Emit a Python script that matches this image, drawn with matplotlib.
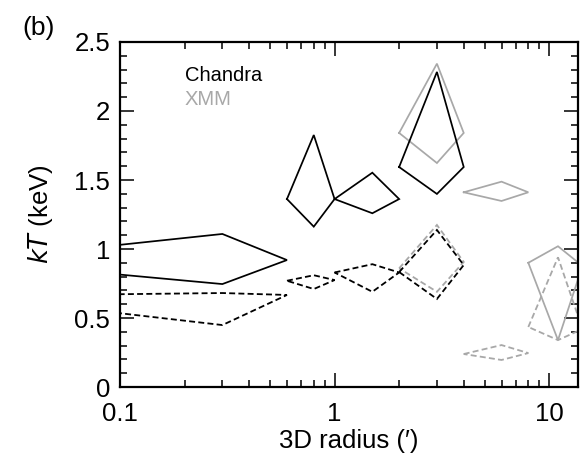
import matplotlib

matplotlib.use('Agg')
import matplotlib.pyplot as plt
from matplotlib.ticker import MultipleLocator, NullFormatter, LogLocator

plt.rcParams['font.family'] = ['Liberation Sans', 'DejaVu Sans']

# --- DATA: one diamond per shell (r_in, r_mid, r_out) x (T_left, T_hi, T_right, T_lo) ---
# Chandra, solid (hot component)
ch_r_in = [0.02, 0.6, 1.0, 2.0]
ch_r_mid = [0.3, 0.8, 1.5, 3.0]
ch_r_out = [0.6, 1.0, 2.0, 4.0]
ch_t_left = [0.915, 1.362, 1.362, 1.594]
ch_t_hi = [1.109, 1.826, 1.553, 2.283]
ch_t_right = [0.92, 1.362, 1.362, 1.594]
ch_t_lo = [0.746, 1.162, 1.259, 1.399]

# XMM, solid
xmm_r_in = [2.0, 4.0, 8.0]
xmm_r_mid = [3.0, 6.0, 11.0]
xmm_r_out = [4.0, 8.0, 14.3]
xmm_t_left = [1.841, 1.411, 0.90]
xmm_t_hi = [2.343, 1.488, 1.02]
xmm_t_right = [1.841, 1.411, 0.877]
xmm_t_lo = [1.623, 1.348, 0.34]

# Chandra, dashed (cool component)
chc_t_left = [0.66, 0.77, 0.83, 0.833]
chc_t_hi = [0.681, 0.81, 0.89, 1.138]
chc_t_right = [0.667, 0.775, 0.83, 0.884]
chc_t_lo = [0.449, 0.71, 0.69, 0.638]

# XMM, dashed
xmmc_t_left = [0.86, 0.239, 0.435]
xmmc_t_hi = [1.174, 0.304, 0.94]
xmmc_t_right = [0.906, 0.246, 0.42]
xmmc_t_lo = [0.69, 0.196, 0.34]

BLACK = 'black'
GREY = '#a8a8a8'
DASH = (0, (3.3, 1.8))


def draw_diamonds(ax, r_in, r_mid, r_out, t_left, t_hi, t_right, t_lo, **kw):
    for i in range(len(r_in)):
        xs = [r_in[i], r_mid[i], r_out[i], r_mid[i], r_in[i]]
        ys = [t_left[i], t_hi[i], t_right[i], t_lo[i], t_left[i]]
        ax.plot(xs, ys, solid_joinstyle='miter', dash_joinstyle='miter', **kw)


fig = plt.figure(figsize=(5.86, 4.65), dpi=100)
ax = fig.add_axes([0.2048, 0.1677, 0.7823, 0.7420])

draw_diamonds(ax, xmm_r_in, xmm_r_mid, xmm_r_out,
              xmmc_t_left, xmmc_t_hi, xmmc_t_right, xmmc_t_lo,
              color=GREY, lw=1.3, ls=DASH)
draw_diamonds(ax, ch_r_in, ch_r_mid, ch_r_out,
              chc_t_left, chc_t_hi, chc_t_right, chc_t_lo,
              color=BLACK, lw=1.3, ls=DASH)
draw_diamonds(ax, xmm_r_in, xmm_r_mid, xmm_r_out,
              xmm_t_left, xmm_t_hi, xmm_t_right, xmm_t_lo,
              color=GREY, lw=1.25)
draw_diamonds(ax, ch_r_in, ch_r_mid, ch_r_out,
              ch_t_left, ch_t_hi, ch_t_right, ch_t_lo,
              color=BLACK, lw=1.25)

ax.set_xscale('log')
ax.set_xlim(0.1, 13.7)
ax.set_ylim(0, 2.5)

ax.set_xticks([0.1, 1, 10])
ax.set_xticklabels(['0.1', '1', '10'])
ax.xaxis.set_minor_locator(LogLocator(base=10, subs=range(2, 10)))
ax.xaxis.set_minor_formatter(NullFormatter())
ax.set_yticks([0, 0.5, 1, 1.5, 2, 2.5])
ax.set_yticklabels(['0', '0.5', '1', '1.5', '2', '2.5'])
ax.yaxis.set_minor_locator(MultipleLocator(0.1))

ax.tick_params(which='both', direction='in', top=True, right=True,
               width=1.1, labelsize=18.5)
ax.tick_params(which='major', length=10)
ax.tick_params(which='minor', length=5)
ax.tick_params(axis='x', pad=11)
ax.tick_params(axis='y', pad=7)
for sp in ax.spines.values():
    sp.set_linewidth(1.6)

ax.set_xlabel('3D radius (\u2032)', fontsize=18.5, labelpad=2)
ax.set_ylabel('$\\mathit{kT}$ (keV)', fontsize=18.5, labelpad=14)

ax.text(0.2, 2.26, 'Chandra', color=BLACK, fontsize=14.5, va='center')
ax.text(0.2, 2.08, 'XMM', color=GREY, fontsize=14.5, va='center')
fig.text(0.039, 0.939, '(b)', fontsize=19, va='center', ha='left')

fig.savefig('out.png', dpi=100)
